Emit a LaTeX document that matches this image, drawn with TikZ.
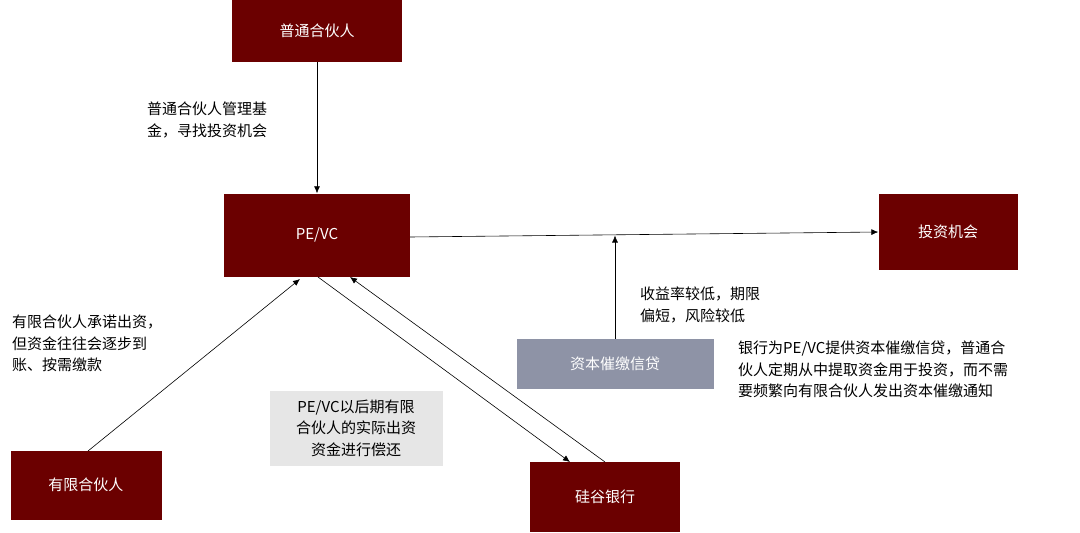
\documentclass[tikz,border=0pt]{standalone}
\usepackage{fontspec}
\setmainfont{Noto Sans CJK SC}
\usetikzlibrary{arrows.meta}
\definecolor{dred}{HTML}{6B0000}
\definecolor{slate}{HTML}{8E93A6}
\definecolor{lgray}{HTML}{E6E6E6}
\begin{document}
\begin{tikzpicture}[x=1pt,y=-1pt,
  box/.style={fill=dred,text=white,draw=none,inner sep=0,font=\fontsize{15}{18}\selectfont},
  lbl/.style={anchor=north west,align=left,inner sep=0,font=\fontsize{15}{21.5}\selectfont},
  arr/.style={-{Latex[length=7pt,width=6pt]},line width=0.6pt}]
\useasboundingbox (0,0) rectangle (1080,533);
\node[box,minimum width=170,minimum height=62] (gp) at (317,31) {普通合伙人};
\node[box,minimum width=186,minimum height=83] (pe) at (317,235) {PE/VC};
\node[box,minimum width=139,minimum height=76] (inv) at (948,232) {投资机会};
\node[box,minimum width=151,minimum height=69] (lp) at (86,485) {有限合伙人};
\node[box,minimum width=150,minimum height=70] (svb) at (605,497) {硅谷银行};
\node[box,fill=slate,minimum width=197,minimum height=50] (cc) at (615,364) {资本催缴信贷};
\node[fill=lgray,minimum width=173,minimum height=75,align=center,inner sep=0,font=\fontsize{15}{21.5}\selectfont] (rep) at (356,428) {PE/VC以后期有限\\合伙人的实际出资\\资金进行偿还};
\coordinate (m) at (615,235.5);
\draw[arr] (gp.south) -- (pe.north);
\draw[arr] (410,237) -- (inv.west |- 0,232);
\draw[arr] (cc.north) -- (m);
\draw[arr] (88,451) -- (300,279);
\draw[arr] (318,277) -- (570,462);
\draw[arr] (605,462) -- (350,277);
\node[lbl] (t1) at (147,102) {普通合伙人管理基\\金，寻找投资机会};
\node[lbl] (t2) at (12,315) {有限合伙人承诺出资，\\但资金往往会逐步到\\账、按需缴款};
\node[lbl] (t3) at (640,287) {收益率较低，期限\\偏短，风险较低};
\node[lbl] (t4) at (738,341) {银行为PE/VC提供资本催缴信贷，普通合\\伙人定期从中提取资金用于投资，而不需\\要频繁向有限合伙人发出资本催缴通知};
\end{tikzpicture}
\end{document}
